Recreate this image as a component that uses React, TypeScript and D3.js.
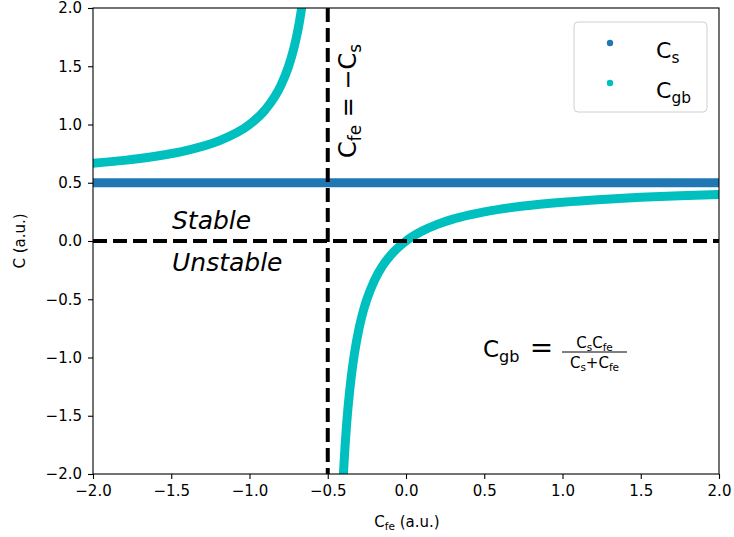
import React, { useRef, useEffect } from "react";
import * as d3 from "d3";

// C_s is constant across the whole range
const csX = [-2.0, -1.5, -1.0, -0.5, 0.0, 0.5, 1.0, 1.5, 2.0];
const csY = [0.5, 0.5, 0.5, 0.5, 0.5, 0.5, 0.5, 0.5, 0.5];

// C_gb, branch left of the pole at C_fe = -C_s
const gbLeftX = [-2.0, -1.8, -1.6, -1.4, -1.2, -1.0, -0.9, -0.8, -0.75, -0.72, -0.7, -0.68, -0.667, -0.65];
const gbLeftY = [0.667, 0.692, 0.727, 0.778, 0.857, 1.0, 1.125, 1.333, 1.5, 1.636, 1.75, 1.889, 2.0, 2.167];

// C_gb, branch right of the pole
const gbRightX = [-0.41, -0.4, -0.39, -0.38, -0.36, -0.35, -0.33, -0.3, -0.27, -0.25, -0.2, -0.15, -0.1, -0.05, 0.0, 0.1, 0.2, 0.3, 0.4, 0.5, 0.75, 1.0, 1.25, 1.5, 1.75, 2.0];
const gbRightY = [-2.278, -2.0, -1.773, -1.583, -1.286, -1.167, -0.971, -0.75, -0.587, -0.5, -0.333, -0.214, -0.125, -0.056, 0.0, 0.083, 0.143, 0.188, 0.222, 0.25, 0.3, 0.333, 0.357, 0.375, 0.389, 0.4];

const xTicks = [-2.0, -1.5, -1.0, -0.5, 0.0, 0.5, 1.0, 1.5, 2.0];
const yTicks = [-2.0, -1.5, -1.0, -0.5, 0.0, 0.5, 1.0, 1.5, 2.0];

const CS = 0.5;
const BLUE = "#1f77b4";
const CYAN = "#00bfbf";
const FONT = "DejaVu Sans, sans-serif";

// letter with a lowered, smaller subscript (mathtext style)
function Sub({ base, sub, size }: { base: string; sub: string; size: number }) {
  return (
    <>
      <tspan>{base}</tspan>
      <tspan fontSize={size * 0.7} baselineShift={-size * 0.22}>{sub}</tspan>
    </>
  );
}

export default function App() {
  const axRef = useRef<SVGGElement>(null);

  const width = 734;
  const height = 537;
  const margin = { top: 8, right: 15, bottom: 63, left: 93 };
  const w = width - margin.left - margin.right;
  const h = height - margin.top - margin.bottom;

  const x = d3.scaleLinear().domain([-2, 2]).range([0, w]);
  const y = d3.scaleLinear().domain([-2, 2]).range([h, 0]);

  const line = d3
    .line<[number, number]>()
    .x((d) => x(d[0]))
    .y((d) => y(d[1]))
    .curve(d3.curveMonotoneX);

  const csPts = csX.map((v, i) => [v, csY[i]] as [number, number]);
  const leftPts = gbLeftX.map((v, i) => [v, gbLeftY[i]] as [number, number]);
  const rightPts = gbRightX.map((v, i) => [v, gbRightY[i]] as [number, number]);

  useEffect(() => {
    const g = d3.select(axRef.current);
    g.selectAll("*").remove();
    const fmt = d3.format(".1f");

    const xAxis = d3.axisBottom(x).tickValues(xTicks).tickFormat((d) => fmt(+d)).tickSize(5).tickPadding(6);
    const yAxis = d3.axisLeft(y).tickValues(yTicks).tickFormat((d) => fmt(+d)).tickSize(5).tickPadding(6);

    g.append("g").attr("transform", `translate(0,${h})`).call(xAxis);
    g.append("g").call(yAxis);

    g.selectAll(".domain").remove();
    g.selectAll(".tick line").attr("stroke", "#000").attr("stroke-width", 1.1);
    g.selectAll(".tick text")
      .attr("font-family", FONT)
      .attr("font-size", 15)
      .attr("fill", "#000");
  }, []);

  return (
    <svg width={width} height={height} style={{ position: "absolute", left: 0, top: 0 }}>
      <rect width={width} height={height} fill="#fff" />
      <defs>
        <clipPath id="plot">
          <rect width={w} height={h} />
        </clipPath>
      </defs>
      <g transform={`translate(${margin.left},${margin.top})`}>
        <g clipPath="url(#plot)">
          <path d={line(csPts) || ""} fill="none" stroke={BLUE} strokeWidth={9} />
          <path d={line(leftPts) || ""} fill="none" stroke={CYAN} strokeWidth={9} strokeLinecap="round" />
          <path d={line(rightPts) || ""} fill="none" stroke={CYAN} strokeWidth={9} strokeLinecap="round" />
          <line x1={0} x2={w} y1={y(0)} y2={y(0)} stroke="#000" strokeWidth={4} strokeDasharray="14,6" />
          <line x1={x(-CS)} x2={x(-CS)} y1={0} y2={h} stroke="#000" strokeWidth={4} strokeDasharray="14,6" />
        </g>
        <rect width={w} height={h} fill="none" stroke="#000" strokeWidth={1.1} />
        <g ref={axRef} />

        {/* annotations */}
        <text x={79} y={221} fontFamily={FONT} fontSize={25} fontStyle="italic">Stable</text>
        <text x={79} y={263} fontFamily={FONT} fontSize={25} fontStyle="italic">Unstable</text>

        <text transform={`translate(${x(-CS) + 28},150) rotate(-90)`} fontFamily={FONT} fontSize={24}>
          <Sub base="C" sub="fe" size={24} />
          <tspan>{" = \u2212C"}</tspan>
          <tspan fontSize={24 * 0.7} baselineShift={-24 * 0.22}>s</tspan>
        </text>

        <g transform="translate(390,349)" fontFamily={FONT}>
          <text x={0} y={0} fontSize={23}>
            <Sub base="C" sub="gb" size={23} />
          </text>
          <text x={58.5} y={0} fontSize={28} textAnchor="middle">=</text>
          <line x1={79} x2={144} y1={-5} y2={-5} stroke="#000" strokeWidth={1} />
          <text x={111.5} y={-9} fontSize={15} textAnchor="middle">
            <Sub base="C" sub="s" size={15} />
            <Sub base="C" sub="fe" size={15} />
          </text>
          <text x={111.5} y={11} fontSize={15} textAnchor="middle">
            <Sub base="C" sub="s" size={15} />
            <tspan>+</tspan>
            <Sub base="C" sub="fe" size={15} />
          </text>
        </g>

        {/* legend */}
        <g transform={`translate(${w - 145},14)`}>
          <rect width={133} height={90} rx={4} fill="#fff" fillOpacity={0.8} stroke="#d0d0d0" strokeWidth={1} />
          <circle cx={36} cy={21} r={3.2} fill={BLUE} />
          <circle cx={36} cy={61} r={3.2} fill={CYAN} />
          <text x={82} y={36} fontFamily={FONT} fontSize={22}>
            <Sub base="C" sub="s" size={22} />
          </text>
          <text x={82} y={76} fontFamily={FONT} fontSize={22}>
            <Sub base="C" sub="gb" size={22} />
          </text>
        </g>
      </g>

      {/* axis labels */}
      <text x={407} y={527} textAnchor="middle" fontFamily={FONT} fontSize={15}>
        <Sub base="C" sub="fe" size={15} />
        <tspan>{" (a.u.)"}</tspan>
      </text>
      <text transform="translate(25,241) rotate(-90)" textAnchor="middle" fontFamily={FONT} fontSize={15}>
        C (a.u.)
      </text>
    </svg>
  );
}
